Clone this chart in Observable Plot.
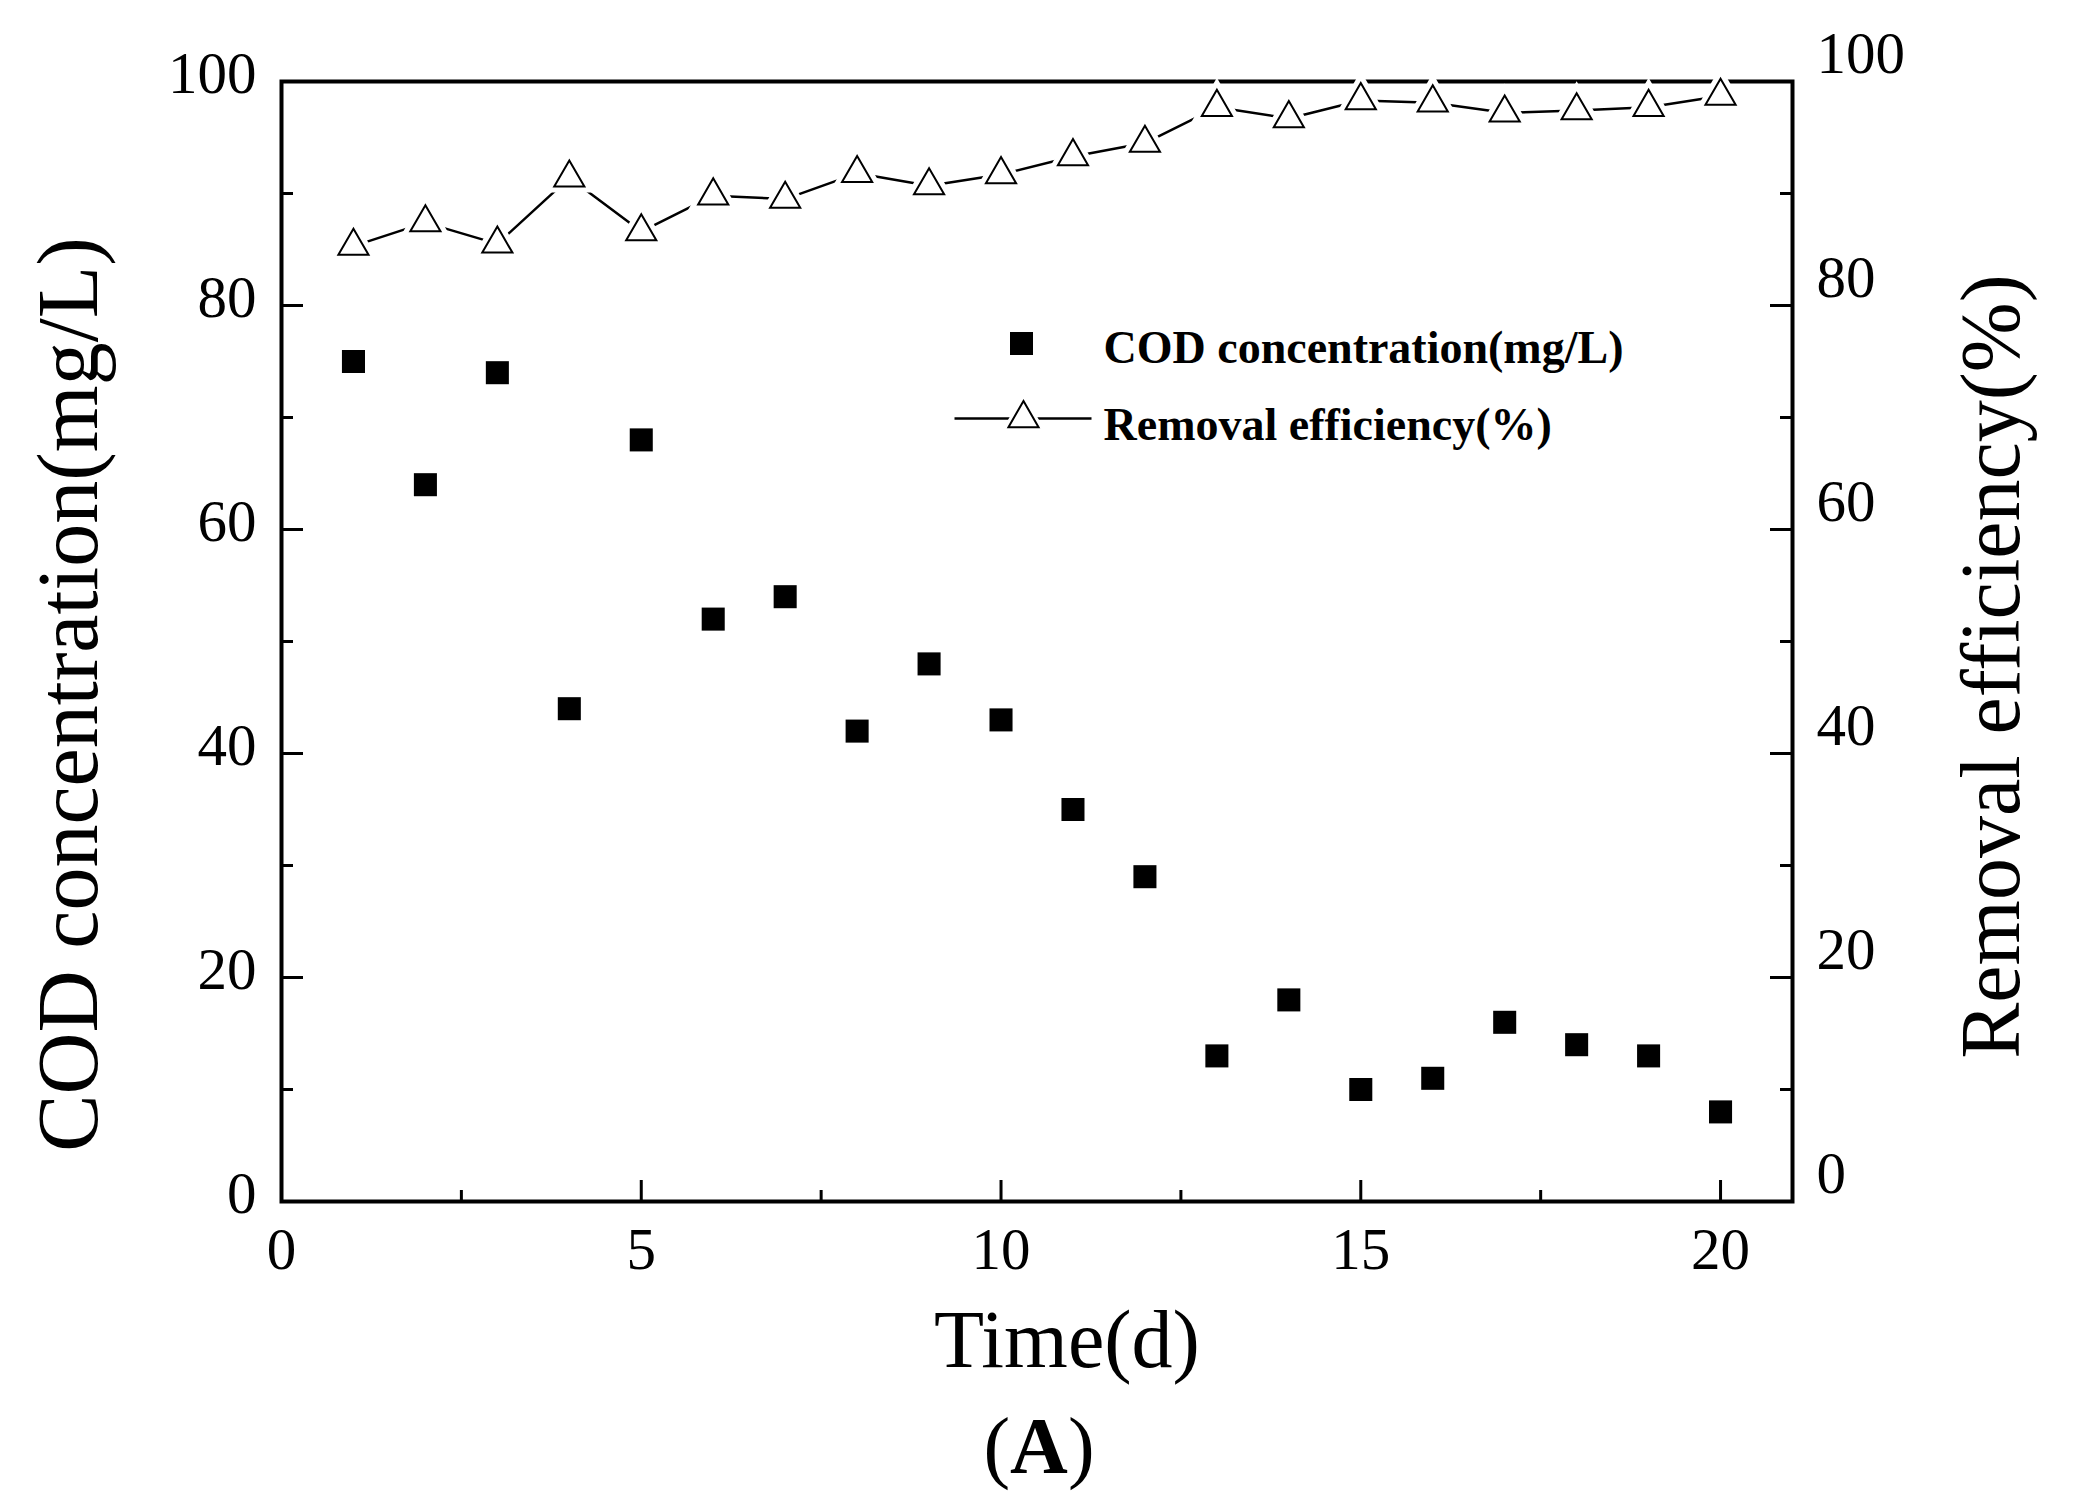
<!DOCTYPE html>
<html>
<head>
<meta charset="utf-8">
<script src="https://cdn.jsdelivr.net/npm/d3@7"></script>
<script src="https://cdn.jsdelivr.net/npm/@observablehq/plot@0.6"></script>
<style>
  html, body { margin: 0; padding: 0; background: #fff; }
</style>
</head>
<body>
<div id="chart"></div>
<script>
// ---- data ----
const days = [1, 2, 3, 4, 5, 6, 7, 8, 9, 10, 11, 12, 13, 14, 15, 16, 17, 18, 19, 20];
const codConcentration = [75, 64, 74, 44, 68, 52, 54, 42, 48, 43, 35, 29, 13, 18, 10, 11, 16, 14, 13, 8];
const removalEfficiency = [85.3, 87.4, 85.5, 91.4, 86.6, 89.8, 89.5, 91.8, 90.7, 91.7,
                           93.3, 94.5, 97.7, 96.7, 98.3, 98.1, 97.2, 97.4, 97.7, 98.7];
const xMajorTicks = [0, 5, 10, 15, 20];
const xMinorTicks = [2.5, 7.5, 12.5, 17.5];
const yMajorTicks = [0, 20, 40, 60, 80, 100];
const yMinorTicks = [10, 30, 50, 70, 90];
const seriesNames = ["COD concentration(mg/L)", "Removal efficiency(%)"];
const xTitle = "Time(d)";
const yLeftTitle = "COD concentration(mg/L)";
const yRightTitle = "Removal efficiency(%)";
const panelLabel = "(A)";

const codRows = days.map((d, i) => ({day: d, value: codConcentration[i]}));
const effRows = days.map((d, i) => ({day: d, value: removalEfficiency[i]}));

// ---- layout ----
const W = 2076, H = 1504;
const mL = 281, mR = 284, mT = 81, mB = 303;
const fw = W - mL - mR, fh = H - mT - mB;
const serif = "'Liberation Serif', 'Times New Roman', serif";

const legendLine = {
  draw(ctx) { ctx.moveTo(-69, 0); ctx.lineTo(68, 0); }
};

const chart = Plot.plot({
  width: W, height: H,
  marginLeft: mL, marginRight: mR, marginTop: mT, marginBottom: mB,
  style: {fontFamily: serif, background: "#fff", color: "#000"},
  x: {domain: [0, 21]},
  y: {domain: [0, 100]},
  marks: [
    // tick labels
    Plot.axisX(xMajorTicks, {anchor: "bottom", label: null, tickSize: 0, tickPadding: 26, fontSize: 59, fill: "#000"}),
    Plot.axisY(yMajorTicks, {anchor: "left", label: null, tickSize: 0, tickPadding: 25, dy: -7, fontSize: 59, fill: "#000"}),
    Plot.axisY(yMajorTicks, {anchor: "right", label: null, tickSize: 0, tickPadding: 24, dy: -27, fontSize: 59, fill: "#000"}),
    // inward ticks
    Plot.tickX(xMajorTicks, {x: d => d, insetTop: fh - 21, stroke: "#000", strokeWidth: 3}),
    Plot.tickX(xMinorTicks, {x: d => d, insetTop: fh - 11, stroke: "#000", strokeWidth: 3}),
    Plot.tickY(yMajorTicks, {y: d => d, insetRight: fw - 22, stroke: "#000", strokeWidth: 3}),
    Plot.tickY(yMinorTicks, {y: d => d, insetRight: fw - 12, stroke: "#000", strokeWidth: 3}),
    Plot.tickY(yMajorTicks, {y: d => d, insetLeft: fw - 22, stroke: "#000", strokeWidth: 3}),
    Plot.tickY(yMinorTicks, {y: d => d, insetLeft: fw - 12, stroke: "#000", strokeWidth: 3}),
    Plot.frame({stroke: "#000", strokeWidth: 4}),
    // removal efficiency line with white gaps round hollow triangles
    Plot.line(effRows, {x: "day", y: "value", stroke: "#000", strokeWidth: 2.5}),
    Plot.dot(effRows, {x: "day", y: "value", symbol: "triangle", r: 11.2, fill: "#fff", stroke: "#fff", strokeWidth: 12}),
    Plot.dot(effRows, {x: "day", y: "value", symbol: "triangle", r: 11.2, fill: "#fff", stroke: "#000", strokeWidth: 2}),
    // COD squares
    Plot.dot(codRows, {x: "day", y: "value", symbol: "square", r: 13, fill: "#000", stroke: "none"}),
    // legend
    Plot.dot([seriesNames[0]], {frameAnchor: "top-left", dx: 740, dy: 262, symbol: "square", r: 13, fill: "#000", stroke: "none"}),
    Plot.text([seriesNames[0]], {frameAnchor: "top-left", dx: 822, dy: 267, text: d => d, textAnchor: "start", lineAnchor: "middle", fontSize: 46, fontWeight: "bold", fill: "#000"}),
    Plot.dot([seriesNames[1]], {frameAnchor: "top-left", dx: 742, dy: 337, symbol: legendLine, r: 1, fill: "none", stroke: "#000", strokeWidth: 2.5}),
    Plot.dot([seriesNames[1]], {frameAnchor: "top-left", dx: 742, dy: 337, symbol: "triangle", r: 11.2, fill: "#fff", stroke: "#fff", strokeWidth: 8}),
    Plot.dot([seriesNames[1]], {frameAnchor: "top-left", dx: 742, dy: 337, symbol: "triangle", r: 11.2, fill: "#fff", stroke: "#000", strokeWidth: 2}),
    Plot.text([seriesNames[1]], {frameAnchor: "top-left", dx: 822, dy: 344, text: d => d, textAnchor: "start", lineAnchor: "middle", fontSize: 46, fontWeight: "bold", fill: "#000"}),
    // axis titles
    Plot.text([yLeftTitle], {frameAnchor: "left", dx: -212, dy: 53, rotate: -90, text: d => d, textAnchor: "middle", lineAnchor: "middle", fontSize: 86, fill: "#000"}),
    Plot.text([yRightTitle], {frameAnchor: "right", dx: 200, dy: 25, rotate: -90, text: d => d, textAnchor: "middle", lineAnchor: "middle", fontSize: 84, fill: "#000"}),
    Plot.text([xTitle], {frameAnchor: "bottom", dx: 30, dy: 139, text: d => d, textAnchor: "middle", lineAnchor: "middle", fontSize: 82, fill: "#000"}),
    Plot.text([panelLabel], {frameAnchor: "bottom", dx: 2, dy: 246, text: d => d, textAnchor: "middle", lineAnchor: "middle", fontSize: 80, fill: "#000", className: "panel-label"})
  ]
});
document.getElementById("chart").appendChild(chart);

// panel label: thin parentheses, bold letter
d3.select(chart).selectAll("g.panel-label text").each(function() {
  const t = d3.select(this);
  const s = t.text();
  t.text(null);
  t.append("tspan").text(s.slice(0, 1));
  t.append("tspan").attr("font-weight", "bold").text(s.slice(1, -1));
  t.append("tspan").text(s.slice(-1));
});
</script>
</body>
</html>
